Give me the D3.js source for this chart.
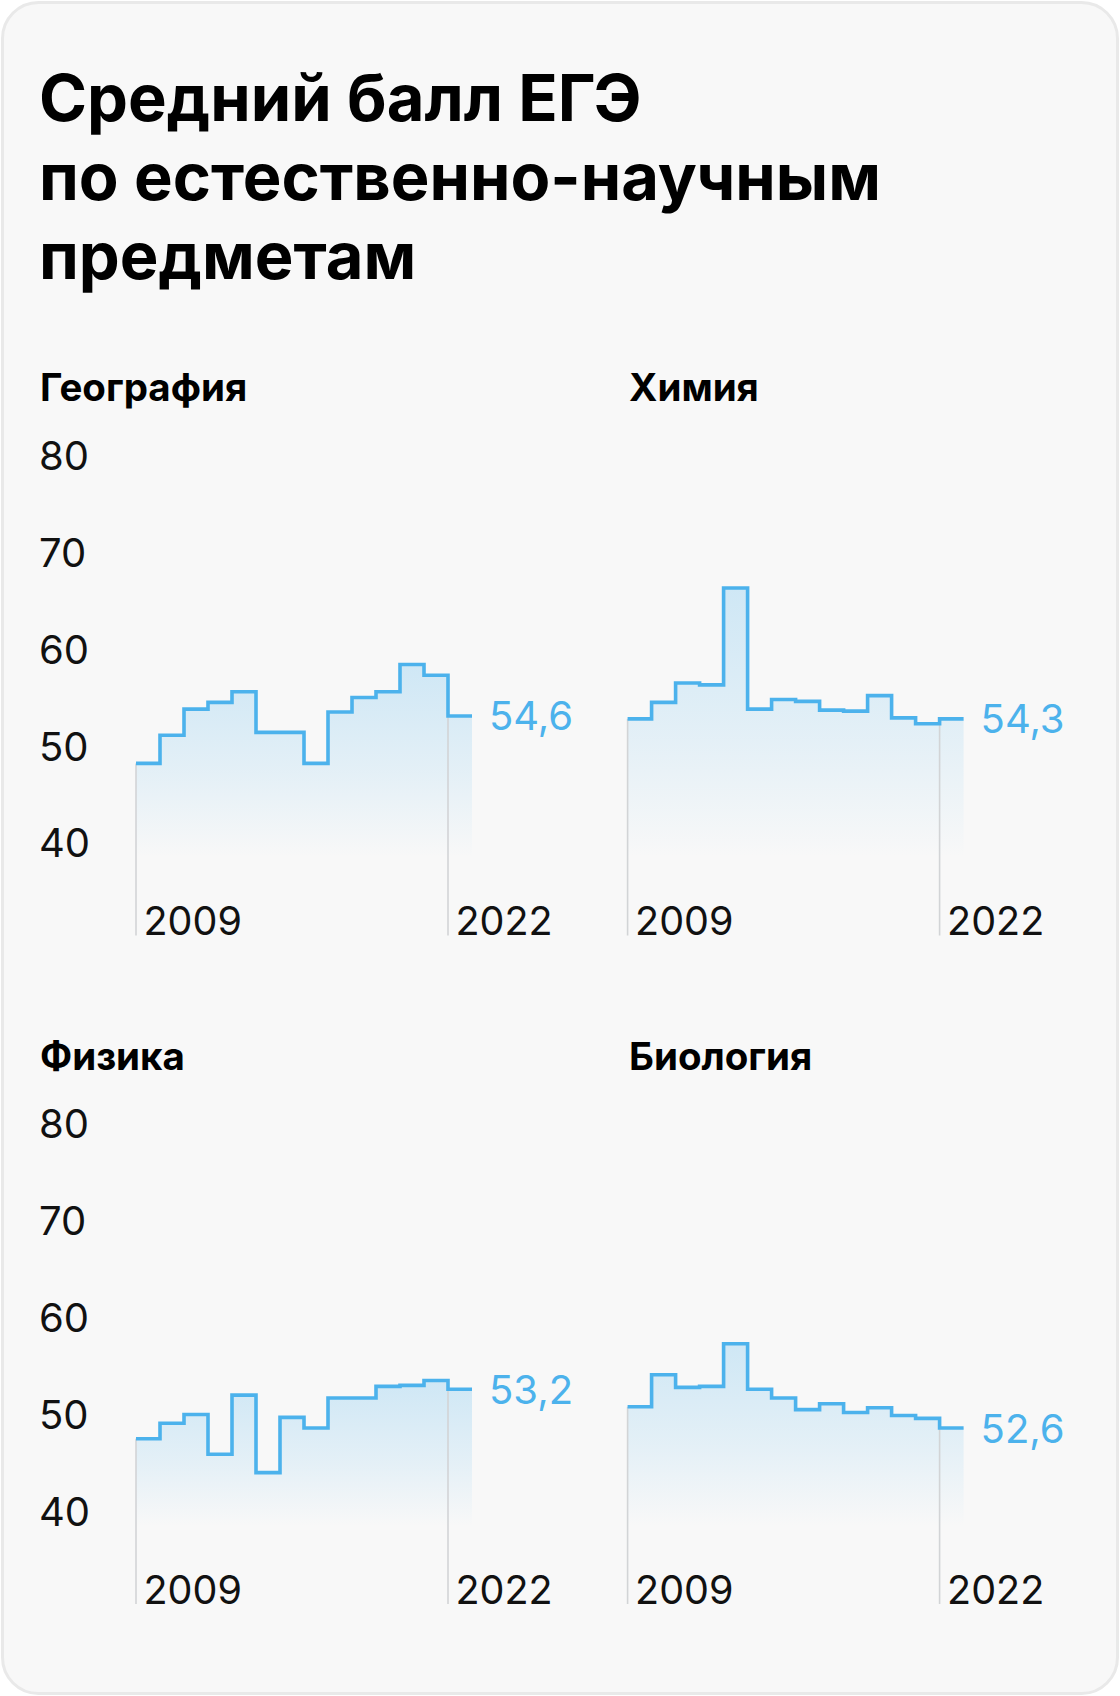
<!DOCTYPE html>
<html>
<head>
<meta charset="utf-8">
<script src="https://cdn.jsdelivr.net/npm/d3@7"></script>
<style>
  html, body { margin: 0; padding: 0; background: #ffffff; }
  svg { display: block; }
</style>
</head>
<body>
<script>
// ---- data ----
const years = [2009, 2010, 2011, 2012, 2013, 2014, 2015, 2016, 2017, 2018, 2019, 2020, 2021, 2022];
const subjects = ["География", "Химия", "Физика", "Биология"];
const geography = [49.7, 52.6, 55.3, 56.0, 57.1, 52.9, 52.9, 49.7, 55.0, 56.5, 57.1, 59.9, 58.8, 54.6];
const chemistry = [54.3, 56.0, 58.0, 57.8, 67.8, 55.3, 56.3, 56.1, 55.2, 55.1, 56.7, 54.4, 53.8, 54.3];
const physics   = [49.0, 50.6, 51.5, 47.4, 53.5, 45.5, 51.2, 50.1, 53.2, 53.2, 54.4, 54.5, 55.0, 54.1];
const biology   = [52.3, 55.6, 54.3, 54.4, 58.8, 54.1, 53.2, 52.0, 52.6, 51.7, 52.2, 51.4, 51.1, 50.1];
const lastLabels = ["54,6", "54,3", "53,2", "52,6"];
const yTicks = [80, 70, 60, 50, 40];
const xLabels = ["2009", "2022"];
const titleLines = ["Средний балл ЕГЭ", "по естественно-научным", "предметам"];

const W = 1120, H = 1696;
const BLUE = "#4cb2ec";
const FONT = "Inter, Roboto, sans-serif";
const TITLE_FONT = "Inter, 'Liberation Sans', sans-serif";

const svg = d3.select("body").append("svg").attr("width", W).attr("height", H);

// card
svg.append("rect").attr("x", 2.5).attr("y", 2.5).attr("width", W - 5).attr("height", H - 5)
  .attr("rx", 36).attr("fill", "#f8f8f8").attr("stroke", "#e9e9e9").attr("stroke-width", 3);

// title
svg.append("text").attr("x", 39).attr("y", 121)
  .attr("font-family", TITLE_FONT).attr("font-weight", 700).attr("font-size", 65).attr("fill", "#000")
  .selectAll("tspan").data(titleLines).join("tspan")
  .attr("x", 39).attr("dy", (d, i) => i === 0 ? 0 : 79).text(d => d);

const defs = svg.append("defs");
const grad = defs.append("linearGradient").attr("id", "fillGrad")
  .attr("x1", 0).attr("y1", 0).attr("x2", 0).attr("y2", 1);
grad.append("stop").attr("offset", "0%").attr("stop-color", BLUE).attr("stop-opacity", 0.24);
grad.append("stop").attr("offset", "55%").attr("stop-color", BLUE).attr("stop-opacity", 0.12);
grad.append("stop").attr("offset", "100%").attr("stop-color", BLUE).attr("stop-opacity", 0);

const series = [geography, chemistry, physics, biology];
const colX = [136, 627.6];
const rowDY = [0, 668.5];

series.forEach((vals, i) => {
  const col = i % 2, row = Math.floor(i / 2);
  const off = rowDY[row];
  const x = d3.scaleLinear().domain([2009, 2023]).range([colX[col], colX[col] + 336]);
  const y = d3.scaleLinear().domain([40, 80]).range([857.4 + off, 469.8 + off]);
  const g = svg.append("g");

  // header
  g.append("text").attr("x", col === 0 ? 40 : 629).attr("y", 401 + off)
    .attr("font-family", TITLE_FONT).attr("font-weight", 700).attr("font-size", 38.5)
    .attr("fill", "#000").text(subjects[i]);

  // y tick labels on left column
  if (col === 0) {
    g.selectAll("text.tick").data(yTicks).join("text").attr("class", "tick")
      .attr("x", 39).attr("y", d => y(d))
      .attr("font-family", FONT).attr("font-size", 40).attr("fill", "#111").text(d => d);
  }

  const pts = years.map((yr, k) => [yr, vals[k]]);
  pts.push([2023, vals[vals.length - 1]]);

  const area = d3.area().curve(d3.curveStepAfter)
    .x(d => x(d[0])).y0(y(40)).y1(d => y(d[1]));
  g.append("path").datum(pts).attr("d", area).attr("fill", "url(#fillGrad)");

  // gray guide lines at first and last year
  const yBottom = 935.5 + off;
  [2009, 2022].forEach((yr, k) => {
    const v = vals[k === 0 ? 0 : vals.length - 1];
    g.append("line").attr("x1", x(yr)).attr("x2", x(yr))
      .attr("y1", y(v)).attr("y2", yBottom)
      .attr("stroke", "#d2d4d6").attr("stroke-width", 1.6);
    g.append("text").attr("x", x(yr) + 7.5).attr("y", 935 + off)
      .attr("font-family", FONT).attr("font-size", 39.5).attr("fill", "#111").text(xLabels[k]);
  });

  const line = d3.line().curve(d3.curveStepAfter).x(d => x(d[0])).y(d => y(d[1]));
  g.append("path").datum(pts).attr("d", line).attr("fill", "none")
    .attr("stroke", BLUE).attr("stroke-width", 3.6).attr("stroke-linejoin", "miter");

  // last value label
  g.append("text").attr("x", x(2023) + 17).attr("y", y(vals[vals.length - 1]) + 14.5)
    .attr("font-family", FONT).attr("font-size", 40).attr("fill", BLUE).text(lastLabels[i]);
});
</script>
</body>
</html>
